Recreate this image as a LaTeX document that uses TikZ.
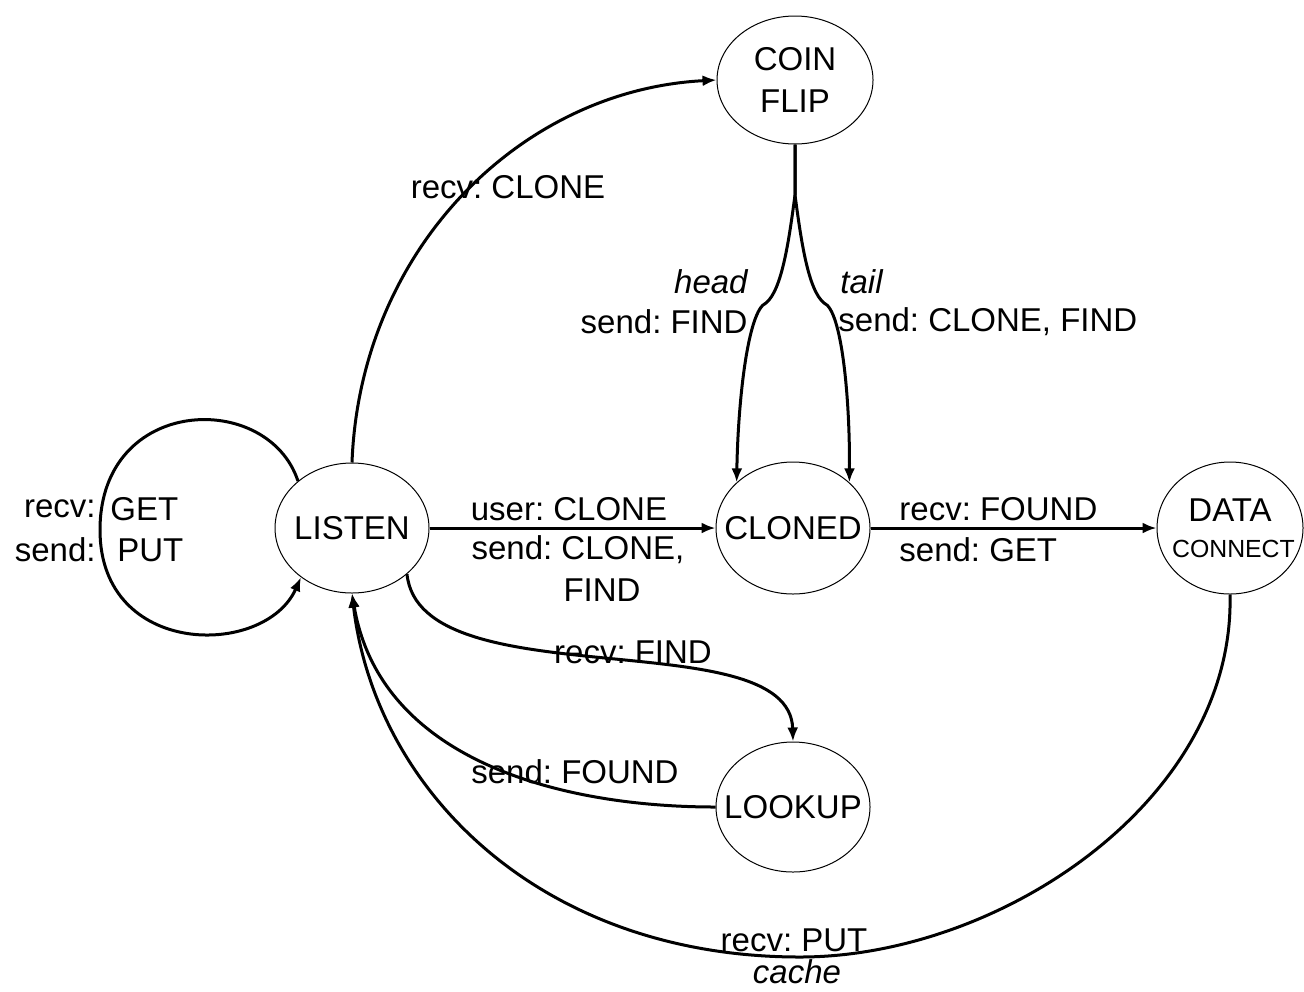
\documentclass[tikz,border=0pt]{standalone}
\usepackage{fontspec}
\setmainfont{Liberation Sans}
\usetikzlibrary{shapes.geometric,arrows.meta}
\newcommand{\zw}[1]{\makebox[0pt]{#1}}
\frenchspacing
\begin{document}
\begin{tikzpicture}[x=0.5pt,y=-0.5pt,
  every node/.style={font=\fontsize{16.5}{21}\selectfont, inner sep=0pt},
  state/.style={draw, ellipse, line width=0.5pt, align=center},
  edge/.style={line width=1.5pt, -{Latex[length=7pt,width=5.5pt]}},
  it/.style={font=\fontsize{16.5}{21}\selectfont\itshape}]
\useasboundingbox (0,0) rectangle (1304,991);

% states
\node[state, minimum width=78pt, minimum height=64pt] (coin) at (795,80) {\zw{COIN}\\\zw{FLIP}};
\node[state, minimum width=77pt, minimum height=65pt] (listen) at (352,528) {\zw{LISTEN}};
\node[state, minimum width=77pt, minimum height=66pt] (cloned) at (793,528) {\zw{CLONED}};
\node[state, minimum width=73pt, minimum height=66pt, font=\fontsize{16.5}{18}\selectfont] (data) at (1230,528) {\zw{DATA}\\\zw{\fontsize{12.4}{14}\selectfont\ CONNECT}};
\node[state, minimum width=77pt, minimum height=65pt] (lookup) at (793,807) {\zw{LOOKUP}};

% edges
\draw[edge] (listen.north) .. controls (360,250) and (520,90) .. (coin.west);
\draw[edge] (listen.139) .. controls (268,390) and (100,395) .. (100,530)
            .. controls (100,658) and (265,658) .. (listen.224);
\draw[edge] (coin.south) -- (795,195) .. controls (789,240) and (782,290) .. (766,303)
            .. controls (748,310) and (738,400) .. (cloned.141);
\draw[edge] (coin.south) -- (795,195) .. controls (801,240) and (808,290) .. (824,303)
            .. controls (842,310) and (850,400) .. (cloned.39);
\draw[edge] (listen) -- (cloned);
\draw[edge] (cloned) -- (data);
\draw[edge] (listen.320) .. controls (420,700) and (790,620) .. (lookup.north);
\draw[edge] (lookup.west) .. controls (560,807) and (380,760) .. (listen.south);
\draw[edge] (data.south) .. controls (1235,800) and (1000,957) .. (800,957)
            .. controls (540,957) and (375,790) .. (listen.south);

% labels
\node (l1) at (508,187) {recv: CLONE};
\node[it, anchor=east] (l2) at (748,282) {head};
\node[anchor=east] (l3) at (748,322) {send: FIND};
\node[it, anchor=west] (l4) at (840,282) {tail};
\node[anchor=west] (l5) at (838,322) {send: CLONE, FIND};
\node (l6) at (569,509) {user: CLONE};
\node (l7) at (578,550) {send: CLONE,};
\node (l8) at (602,590) {FIND};
\node[anchor=west] (l9) at (899,509) {recv: FOUND};
\node[anchor=west] (l10) at (899,550) {send: GET};
\node (l11) at (633,652) {recv: FIND};
\node (l12) at (575,772) {send: FOUND};
\node (l13) at (794,940) {recv: PUT};
\node[it] (l14) at (797,972) {cache};
\node[anchor=east] (l15) at (96,509) {recv:};
\node[anchor=west] (l16) at (110,509) {GET};
\node[anchor=east] (l17) at (96,550) {send:};
\node[anchor=west] (l18) at (117,550) {PUT};
\end{tikzpicture}
\end{document}
